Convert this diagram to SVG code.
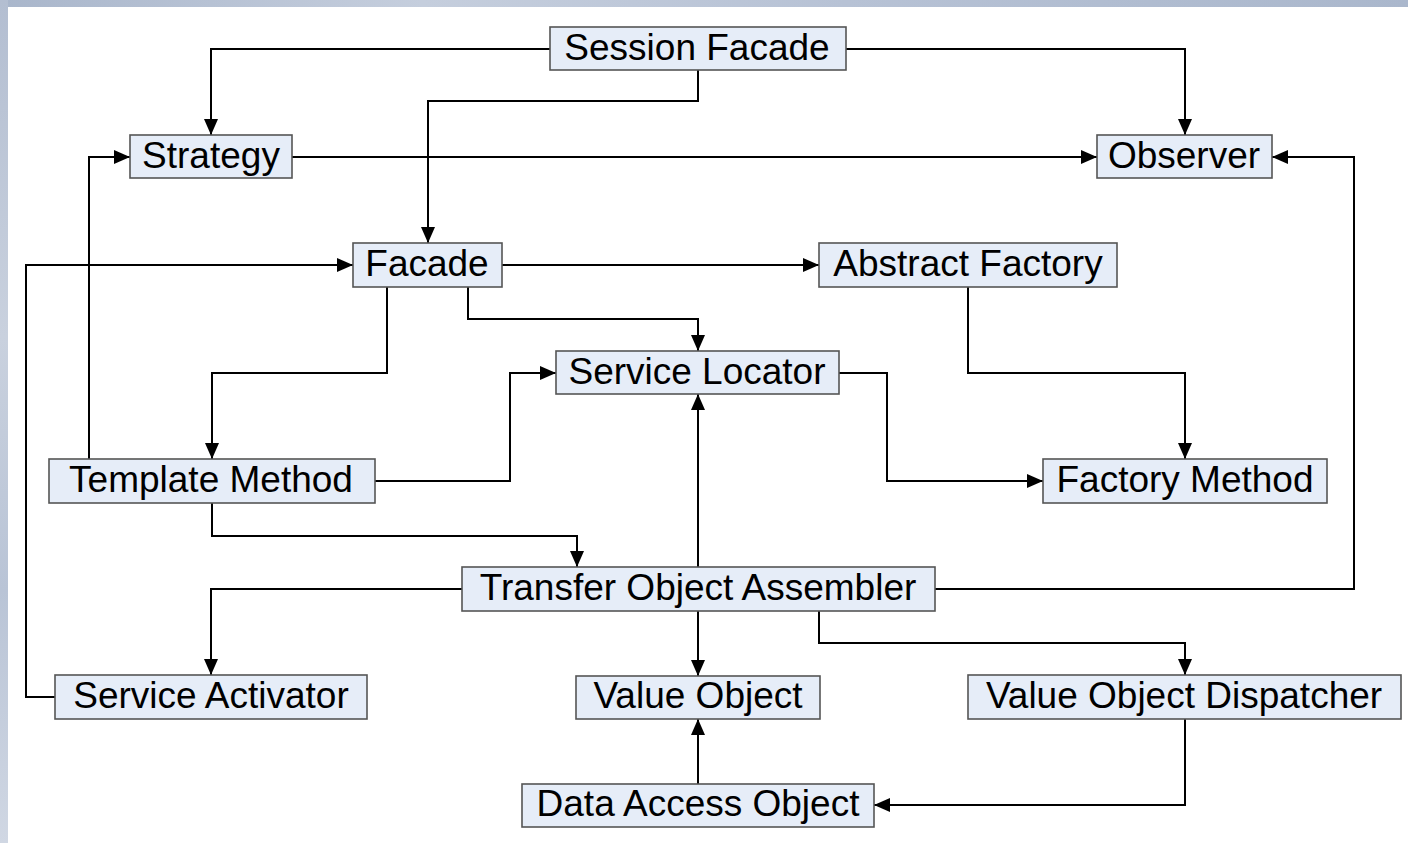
<svg xmlns="http://www.w3.org/2000/svg" width="1408" height="843" viewBox="0 0 1408 843">
<defs>
<linearGradient id="bgTop" x1="0" y1="0" x2="1" y2="0">
<stop offset="0" stop-color="#a9b6cb"/>
<stop offset="0.3" stop-color="#c5cedd"/>
<stop offset="0.6" stop-color="#b7c2d5"/>
<stop offset="1" stop-color="#aab7cc"/>
</linearGradient>
<linearGradient id="bgLeft" x1="0" y1="0" x2="0" y2="1">
<stop offset="0" stop-color="#b3bed1"/>
<stop offset="0.4" stop-color="#c9d1de"/>
<stop offset="0.7" stop-color="#b9c4d6"/>
<stop offset="1" stop-color="#d0d7e3"/>
</linearGradient>
<marker id="arr" markerWidth="16" markerHeight="14" refX="16" refY="7" orient="auto" markerUnits="userSpaceOnUse">
<path d="M0,0 L16,7 L0,14 Z" fill="#000"/>
</marker>
<style>
.box{fill:#e6edf8;stroke:#555;stroke-width:1.6}
.lbl{font-family:"Liberation Sans",Arial,sans-serif;font-size:37px;fill:#000;text-anchor:middle}
.c{fill:none;stroke:#000;stroke-width:2;marker-end:url(#arr)}
</style>
</defs>
<rect x="0" y="0" width="1408" height="843" fill="#fff"/>
<rect x="0" y="0" width="1408" height="7" fill="url(#bgTop)"/>
<rect x="0" y="0" width="8" height="843" fill="url(#bgLeft)"/>

<g id="connectors">
<path class="c" d="M550,49 H211 V135"/>
<path class="c" d="M846,49 H1185 V135"/>
<path class="c" d="M698,70 V101 H428 V243"/>
<path class="c" d="M292,157 H1097"/>
<path class="c" d="M89,459 V157 H130"/>
<path class="c" d="M935,589 H1354 V157 H1272"/>
<path class="c" d="M55,697 H26 V265 H353"/>
<path class="c" d="M502,265 H819"/>
<path class="c" d="M468,287 V319 H698 V351"/>
<path class="c" d="M387,287 V373 H212 V459"/>
<path class="c" d="M375,481 H510 V373 H556"/>
<path class="c" d="M212,503 V536 H577 V567"/>
<path class="c" d="M698,567 V394"/>
<path class="c" d="M968,287 V373 H1185 V459"/>
<path class="c" d="M839,373 H887 V481 H1043"/>
<path class="c" d="M462,589 H211 V675"/>
<path class="c" d="M698,611 V676"/>
<path class="c" d="M819,611 V643 H1185 V675"/>
<path class="c" d="M698,784 V719"/>
<path class="c" d="M1185,719 V805 H874"/>
</g>

<g id="session-facade"><rect class="box" x="550" y="27" width="296" height="43"/><text class="lbl" x="697" y="60">Session Facade</text></g>
<g id="strategy"><rect class="box" x="130" y="135" width="162" height="43"/><text class="lbl" x="211" y="168">Strategy</text></g>
<g id="observer"><rect class="box" x="1097" y="135" width="175" height="43"/><text class="lbl" x="1184" y="168">Observer</text></g>
<g id="facade"><rect class="box" x="353" y="243" width="149" height="44"/><text class="lbl" x="427" y="276">Facade</text></g>
<g id="abstract-factory"><rect class="box" x="819" y="243" width="298" height="44"/><text class="lbl" x="968" y="276">Abstract Factory</text></g>
<g id="service-locator"><rect class="box" x="556" y="351" width="283" height="43"/><text class="lbl" x="697" y="384">Service Locator</text></g>
<g id="template-method"><rect class="box" x="49" y="459" width="326" height="44"/><text class="lbl" x="211" y="492">Template Method</text></g>
<g id="factory-method"><rect class="box" x="1043" y="459" width="284" height="44"/><text class="lbl" x="1185" y="492">Factory Method</text></g>
<g id="transfer-object-assembler"><rect class="box" x="462" y="567" width="473" height="44"/><text class="lbl" x="698" y="600">Transfer Object Assembler</text></g>
<g id="service-activator"><rect class="box" x="55" y="675" width="312" height="44"/><text class="lbl" x="211" y="708">Service Activator</text></g>
<g id="value-object"><rect class="box" x="576" y="676" width="244" height="43"/><text class="lbl" x="698" y="708">Value Object</text></g>
<g id="value-object-dispatcher"><rect class="box" x="968" y="675" width="433" height="44"/><text class="lbl" x="1184" y="708">Value Object Dispatcher</text></g>
<g id="data-access-object"><rect class="box" x="522" y="784" width="352" height="43"/><text class="lbl" x="698" y="816">Data Access Object</text></g>
</svg>
